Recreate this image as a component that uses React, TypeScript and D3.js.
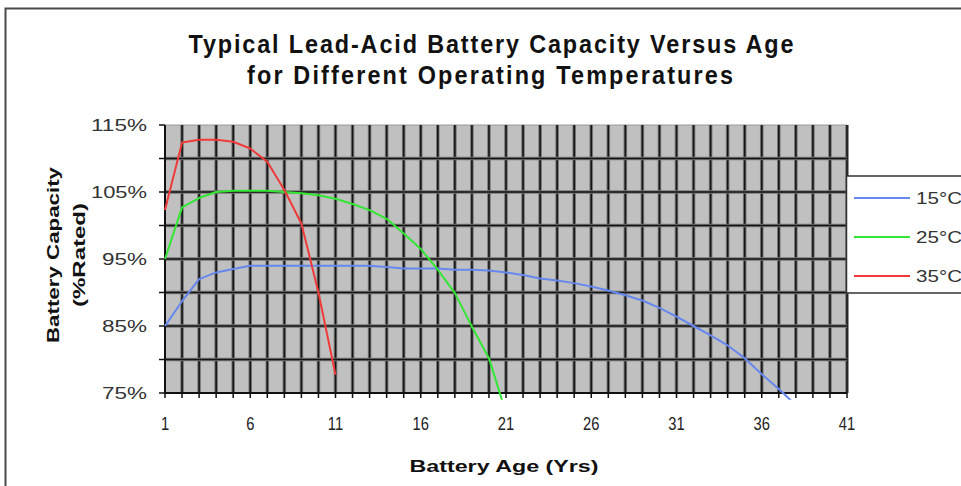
import * as d3 from 'd3';

// capacity (% of rated) per battery age, first value = year 1
const cap15 = [85, 88.7, 92, 93, 93.5, 94, 94, 94, 94, 94, 94, 94, 94, 93.8, 93.6, 93.6, 93.6, 93.4, 93.4, 93.3,
  93.0, 92.6, 92.1, 91.8, 91.4, 90.9, 90.3, 89.6, 88.8, 87.7, 86.4, 85.0, 83.6, 82.1, 80.2, 77.8, 75.6, 73.2];
const cap25 = [95, 102.7, 104.1, 105, 105.2, 105.2, 105.2, 105, 104.8, 104.5, 104, 103.2, 102.3, 101, 98.8,
  96.5, 93.4, 89.9, 84.9, 80.2, 72];
const cap35 = [102.3, 112.4, 112.8, 112.8, 112.5, 111.5, 109.5, 105.3, 100.3, 90, 77.7];

const seriesNames = ['15°C', '25°C', '35°C'];
const seriesColors = ['#6688ee', '#33e633', '#f03a3a'];
const seriesData = [cap15, cap25, cap35];

const xTicks = [1, 6, 11, 16, 21, 26, 31, 36, 41];
const yTicks = [75, 85, 95, 105, 115];

const W = 961;
const H = 486;
const plot = { left: 165, right: 847, top: 125, bottom: 393 };

const sans = "'Liberation Sans', Arial, sans-serif";
const squeeze = 0.82; // narrow-font look for x labels
const titleSqueeze = 0.9;

export default function App() {
  const x = d3.scaleLinear().domain([1, 41]).range([plot.left, plot.right]);
  const y = d3.scaleLinear().domain([75, 115]).range([plot.bottom, plot.top]);

  const line = d3.line<number>()
    .x((_d, i) => x(i + 1))
    .y(d => y(d));

  const years = d3.range(1, 42);
  const gridY = d3.range(80, 115, 5);
  const minorY = d3.range(75, 120, 5);

  const gridStroke = (key: string, x1: number, y1: number, x2: number, y2: number) => (
    <g key={key}>
      <line x1={x1} y1={y1} x2={x2} y2={y2} stroke="#777" strokeWidth={3.6} />
      <line x1={x1} y1={y1} x2={x2} y2={y2} stroke="#141414" strokeWidth={1.6} />
    </g>
  );

  return (
    <div style={{ position: 'absolute', left: 0, top: 0 }}>
      <svg width={W} height={H} style={{ display: 'block', background: '#fff' }}>
        <defs>
          <clipPath id="plotClip">
            <rect x={plot.left - 4} y={plot.top - 4} width={plot.right - plot.left + 8} height={y(74) - plot.top + 4} />
          </clipPath>
        </defs>

        {/* chart area border */}
        <rect x={5.5} y={8.5} width={W + 20} height={H + 20} fill="none" stroke="#4a4a4a" strokeWidth={2} />

        {/* title */}
        <text transform={`translate(491,53) scale(${titleSqueeze},1)`} textAnchor="middle" fontFamily={sans}
          fontWeight="bold" fontSize={26} fill="#111" textLength={605 / titleSqueeze} lengthAdjust="spacing">
          Typical Lead-Acid Battery Capacity Versus Age
        </text>
        <text transform={`translate(490,84) scale(${titleSqueeze},1)`} textAnchor="middle" fontFamily={sans}
          fontWeight="bold" fontSize={26} fill="#111" textLength={486 / titleSqueeze} lengthAdjust="spacing">
          for Different Operating Temperatures
        </text>

        {/* plot background */}
        <rect x={plot.left} y={plot.top} width={plot.right - plot.left} height={plot.bottom - plot.top} fill="#c0c0c0" />
        <line x1={plot.left} x2={plot.right} y1={plot.top} y2={plot.top} stroke="#9a9a9a" strokeWidth={1} />

        {/* grid */}
        {years.slice(1).map(v => gridStroke('vx' + v, x(v), plot.top, x(v), plot.bottom))}
        {gridY.map(v => gridStroke('hy' + v, plot.left, y(v), plot.right, y(v)))}

        {/* axes */}
        <line x1={plot.left} x2={plot.left} y1={plot.top} y2={plot.bottom} stroke="#111" strokeWidth={2} />
        <line x1={plot.left} x2={plot.right} y1={plot.bottom} y2={plot.bottom} stroke="#111" strokeWidth={2} />
        {years.map(v => (
          <line key={'xt' + v} x1={x(v)} x2={x(v)} y1={plot.bottom} y2={plot.bottom + 5} stroke="#111" strokeWidth={1.5} />
        ))}
        {minorY.map(v => (
          <line key={'yt' + v} x1={plot.left - 6} x2={plot.left} y1={y(v)} y2={y(v)} stroke="#111" strokeWidth={1.5} />
        ))}

        {/* tick labels */}
        {xTicks.map(v => (
          <text key={'xl' + v} transform={`translate(${x(v)},430) scale(${squeeze},1)`} textAnchor="middle"
            fontFamily={sans} fontSize={18} fill="#222">
            {v}
          </text>
        ))}
        {yTicks.map(v => (
          <text key={'yl' + v} x={147} y={y(v) + 6} textAnchor="end" fontFamily={sans} fontSize={16} fill="#333"
            textLength={v >= 100 ? 56 : 45} lengthAdjust="spacingAndGlyphs">
            {v}%
          </text>
        ))}

        {/* axis titles */}
        <text x={504} y={472} textAnchor="middle" fontFamily={sans} fontWeight="bold" fontSize={17} fill="#111"
          textLength={189} lengthAdjust="spacingAndGlyphs">
          Battery Age (Yrs)
        </text>
        <text transform="translate(59,255) rotate(-90)" textAnchor="middle" fontFamily={sans} fontWeight="bold"
          fontSize={17} fill="#111" textLength={176} lengthAdjust="spacingAndGlyphs">
          Battery Capacity
        </text>
        <text transform="translate(85,255) rotate(-90)" textAnchor="middle" fontFamily={sans} fontWeight="bold"
          fontSize={17} fill="#111" textLength={104} lengthAdjust="spacingAndGlyphs">
          (%Rated)
        </text>

        {/* series */}
        <g clipPath="url(#plotClip)">
          {seriesData.map((d, i) => (
            <path key={seriesNames[i]} d={line(d) ?? ''} fill="none" stroke={seriesColors[i]} strokeWidth={2}
              strokeLinejoin="round" />
          ))}
        </g>

        {/* legend */}
        <rect x={846.5} y={176} width={200} height={117} fill="#fff" stroke="#333" strokeWidth={1.5} />
        {seriesNames.map((name, i) => (
          <g key={'lg' + name} transform={`translate(0,${198 + i * 39})`}>
            <line x1={854} x2={910} y1={0} y2={0} stroke={seriesColors[i]} strokeWidth={2} />
            <text x={916} y={6} fontFamily={sans} fontSize={17} fill="#333" textLength={46}
              lengthAdjust="spacingAndGlyphs">
              {name}
            </text>
          </g>
        ))}
      </svg>
    </div>
  );
}
